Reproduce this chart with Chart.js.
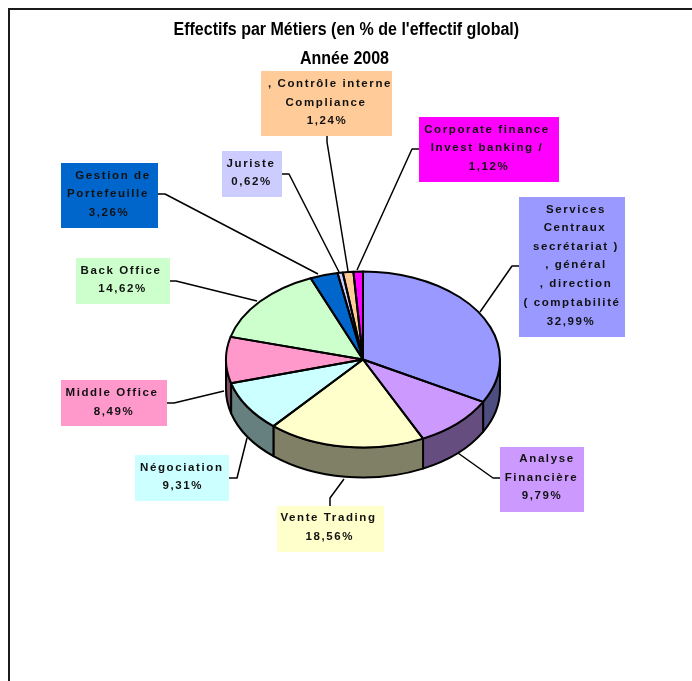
<!DOCTYPE html>
<html>
<head>
<meta charset="utf-8">
<style>html,body{margin:0;padding:0;background:#fff}canvas{display:block}</style>
<script src="https://cdn.jsdelivr.net/npm/chart.js@4"></script>
</head>
<body>
<div style="width:692px;height:681px"><canvas id="c" width="692" height="681"></canvas></div>
<script>
const categories = ["Services Centraux","Analyse Financière","Vente Trading","Négociation","Middle Office","Back Office","Gestion de Portefeuille","Juriste","Contrôle interne Compliance","Corporate finance Invest banking"];
const values = [32.99,9.79,18.56,9.31,8.49,14.62,3.26,0.62,1.24,1.12];
const colors = ["#9999FF","#CC99FF","#FFFFCC","#CCFFFF","#FF99CC","#CCFFCC","#0066CC","#CCCCFF","#FFCC99","#FF00FF"];
const labelLines = [
  ["Services","Centraux","secrétariat )",", général",", direction","( comptabilité"],
  ["Analyse","Financière"],
  ["Vente Trading"],
  ["Négociation"],
  ["Middle Office"],
  ["Back Office"],
  ["Gestion de","Portefeuille"],
  ["Juriste"],
  [", Contrôle interne","Compliance"],
  ["Corporate finance","Invest banking /"]
];
const titleText = "Effectifs par Métiers (en % de l'effectif global)";
const subtitleText = "Année 2008";

// Presentation only
const pie = {cx:363, cy:359.5, rx:137, ry:88, depth:30};
const heads = [{t:titleText,x:346.3,y:30},{t:subtitleText,x:344.5,y:59}];
const boxes = [
  {r:[519,197,106,140], x:[576,575,576,576,576,572,571], y:[209,227,246,264,283,302,321], lead:[[519,266],[512,266],[480,312]]},
  {r:[500,447,84,65], x:[547,541.5,542], y:[458,477,495], lead:[[500,478],[493,478],[458,453]]},
  {r:[277,506,107,46], x:[328.5,329.7], y:[517,536], lead:[[330,506],[330,498],[344,479]]},
  {r:[135,455,94,46], x:[181.8,182.7], y:[467,485], lead:[[229,478],[237,478],[247,438]]},
  {r:[61,380,106,46], x:[112,114], y:[392,411], lead:[[167,403],[174,403],[224,391]]},
  {r:[76,258,94,46], x:[121,122.5], y:[270,288], lead:[[170,281],[176,281],[257,301]]},
  {r:[61,163,97,65], x:[113,108,109], y:[175,193,212], lead:[[158,194],[165,194],[318,274]]},
  {r:[222,151,60,46], x:[251,251.5], y:[163,181], lead:[[282,174],[289,174],[339,272]]},
  {r:[261,71,131,65], x:[330,326,327], y:[83,102,120], lead:[[327,136],[327,142],[348,271]]},
  {r:[419,117,140,65], x:[487,487,489], y:[129,147,166], lead:[[419,149],[412,149],[357,270]]}
];
const LW = 2, INK = "#000";

function darken(hex){
  const n = parseInt(hex.slice(1),16);
  const f = v => Math.round(v*0.5);
  return `rgb(${f(n>>16&255)},${f(n>>8&255)},${f(n&255)})`;
}

const pie3d = {
  id:"pie3d",
  beforeDraw(chart){
    const ctx = chart.ctx;
    ctx.save();
    ctx.fillStyle="#fff"; ctx.fillRect(0,0,chart.width,chart.height);
    ctx.strokeStyle="#1a1a1a"; ctx.lineWidth=2;
    ctx.strokeRect(9,9,chart.width+20,chart.height+20);
    // condensed bold headings
    ctx.fillStyle="#000";
    ctx.font='bold 18px "Liberation Sans", Arial, sans-serif';
    ctx.textAlign="center"; ctx.textBaseline="middle";
    heads.forEach(h=>{
      ctx.save();
      ctx.translate(h.x,h.y); ctx.scale(0.89,1);
      ctx.fillText(h.t,0,0);
      ctx.restore();
    });
    ctx.restore();
  },
  beforeDatasetsDraw(chart){
    const ctx = chart.ctx, arcs = chart.getDatasetMeta(0).data, {cx,cy,rx,ry,depth} = pie;
    // side walls of the front half
    ctx.save();
    ctx.lineWidth = LW; ctx.strokeStyle = INK; ctx.lineJoin="round";
    arcs.forEach((a,i)=>{
      const s = Math.max(a.startAngle,0), e = Math.min(a.endAngle,Math.PI);
      if (e<=s) return;
      ctx.beginPath();
      ctx.ellipse(cx,cy,rx,ry,0,s,e);
      ctx.ellipse(cx,cy+depth,rx,ry,0,e,s,true);
      ctx.closePath();
      ctx.fillStyle = darken(colors[i]);
      ctx.fill(); ctx.stroke();
    });
    ctx.restore();
    // squash the library's circular arcs into the tilted top face
    const a0 = arcs[0];
    ctx.save();
    ctx.translate(cx,cy);
    ctx.scale(1,ry/rx);
    ctx.translate(-a0.x,-a0.y);
  },
  afterDatasetsDraw(chart){
    const ctx = chart.ctx, arcs = chart.getDatasetMeta(0).data, {cx,cy,rx,ry} = pie;
    ctx.restore();
    ctx.save();
    ctx.lineWidth = LW; ctx.strokeStyle = INK; ctx.lineJoin="round";
    arcs.forEach(a=>{
      ctx.beginPath();
      ctx.moveTo(cx,cy);
      ctx.ellipse(cx,cy,rx,ry,0,a.startAngle,a.endAngle);
      ctx.closePath();
      ctx.stroke();
    });
    // leader lines
    ctx.lineWidth = 1.5;
    boxes.forEach(b=>{
      ctx.beginPath();
      b.lead.forEach((p,i)=> i?ctx.lineTo(p[0],p[1]):ctx.moveTo(p[0],p[1]));
      ctx.stroke();
    });
    // label boxes
    ctx.font = 'bold 11.5px "Liberation Sans", Arial, sans-serif';
    ctx.letterSpacing = "1.6px";
    ctx.textAlign = "center";
    ctx.textBaseline = "middle";
    boxes.forEach((b,i)=>{
      ctx.fillStyle = colors[i];
      ctx.fillRect(b.r[0],b.r[1],b.r[2],b.r[3]);
      ctx.fillStyle = "#111";
      const lines = labelLines[i].concat(values[i].toFixed(2).replace(".",",")+"%");
      lines.forEach((t,j)=> ctx.fillText(t,b.x[j],b.y[j]+0.5));
    });
    ctx.restore();
  }
};

new Chart(document.getElementById("c"),{
  type:"doughnut",
  data:{labels:categories,datasets:[{data:values,backgroundColor:colors,borderWidth:0,hoverOffset:0,clip:false}]},
  plugins:[pie3d],
  options:{
    responsive:false,
    animation:false,
    cutout:0,
    radius:137,
    rotation:0,
    events:[],
    layout:{padding:0},
    plugins:{legend:{display:false},tooltip:{enabled:false},title:{display:false}}
  }
});
</script>
</body>
</html>
